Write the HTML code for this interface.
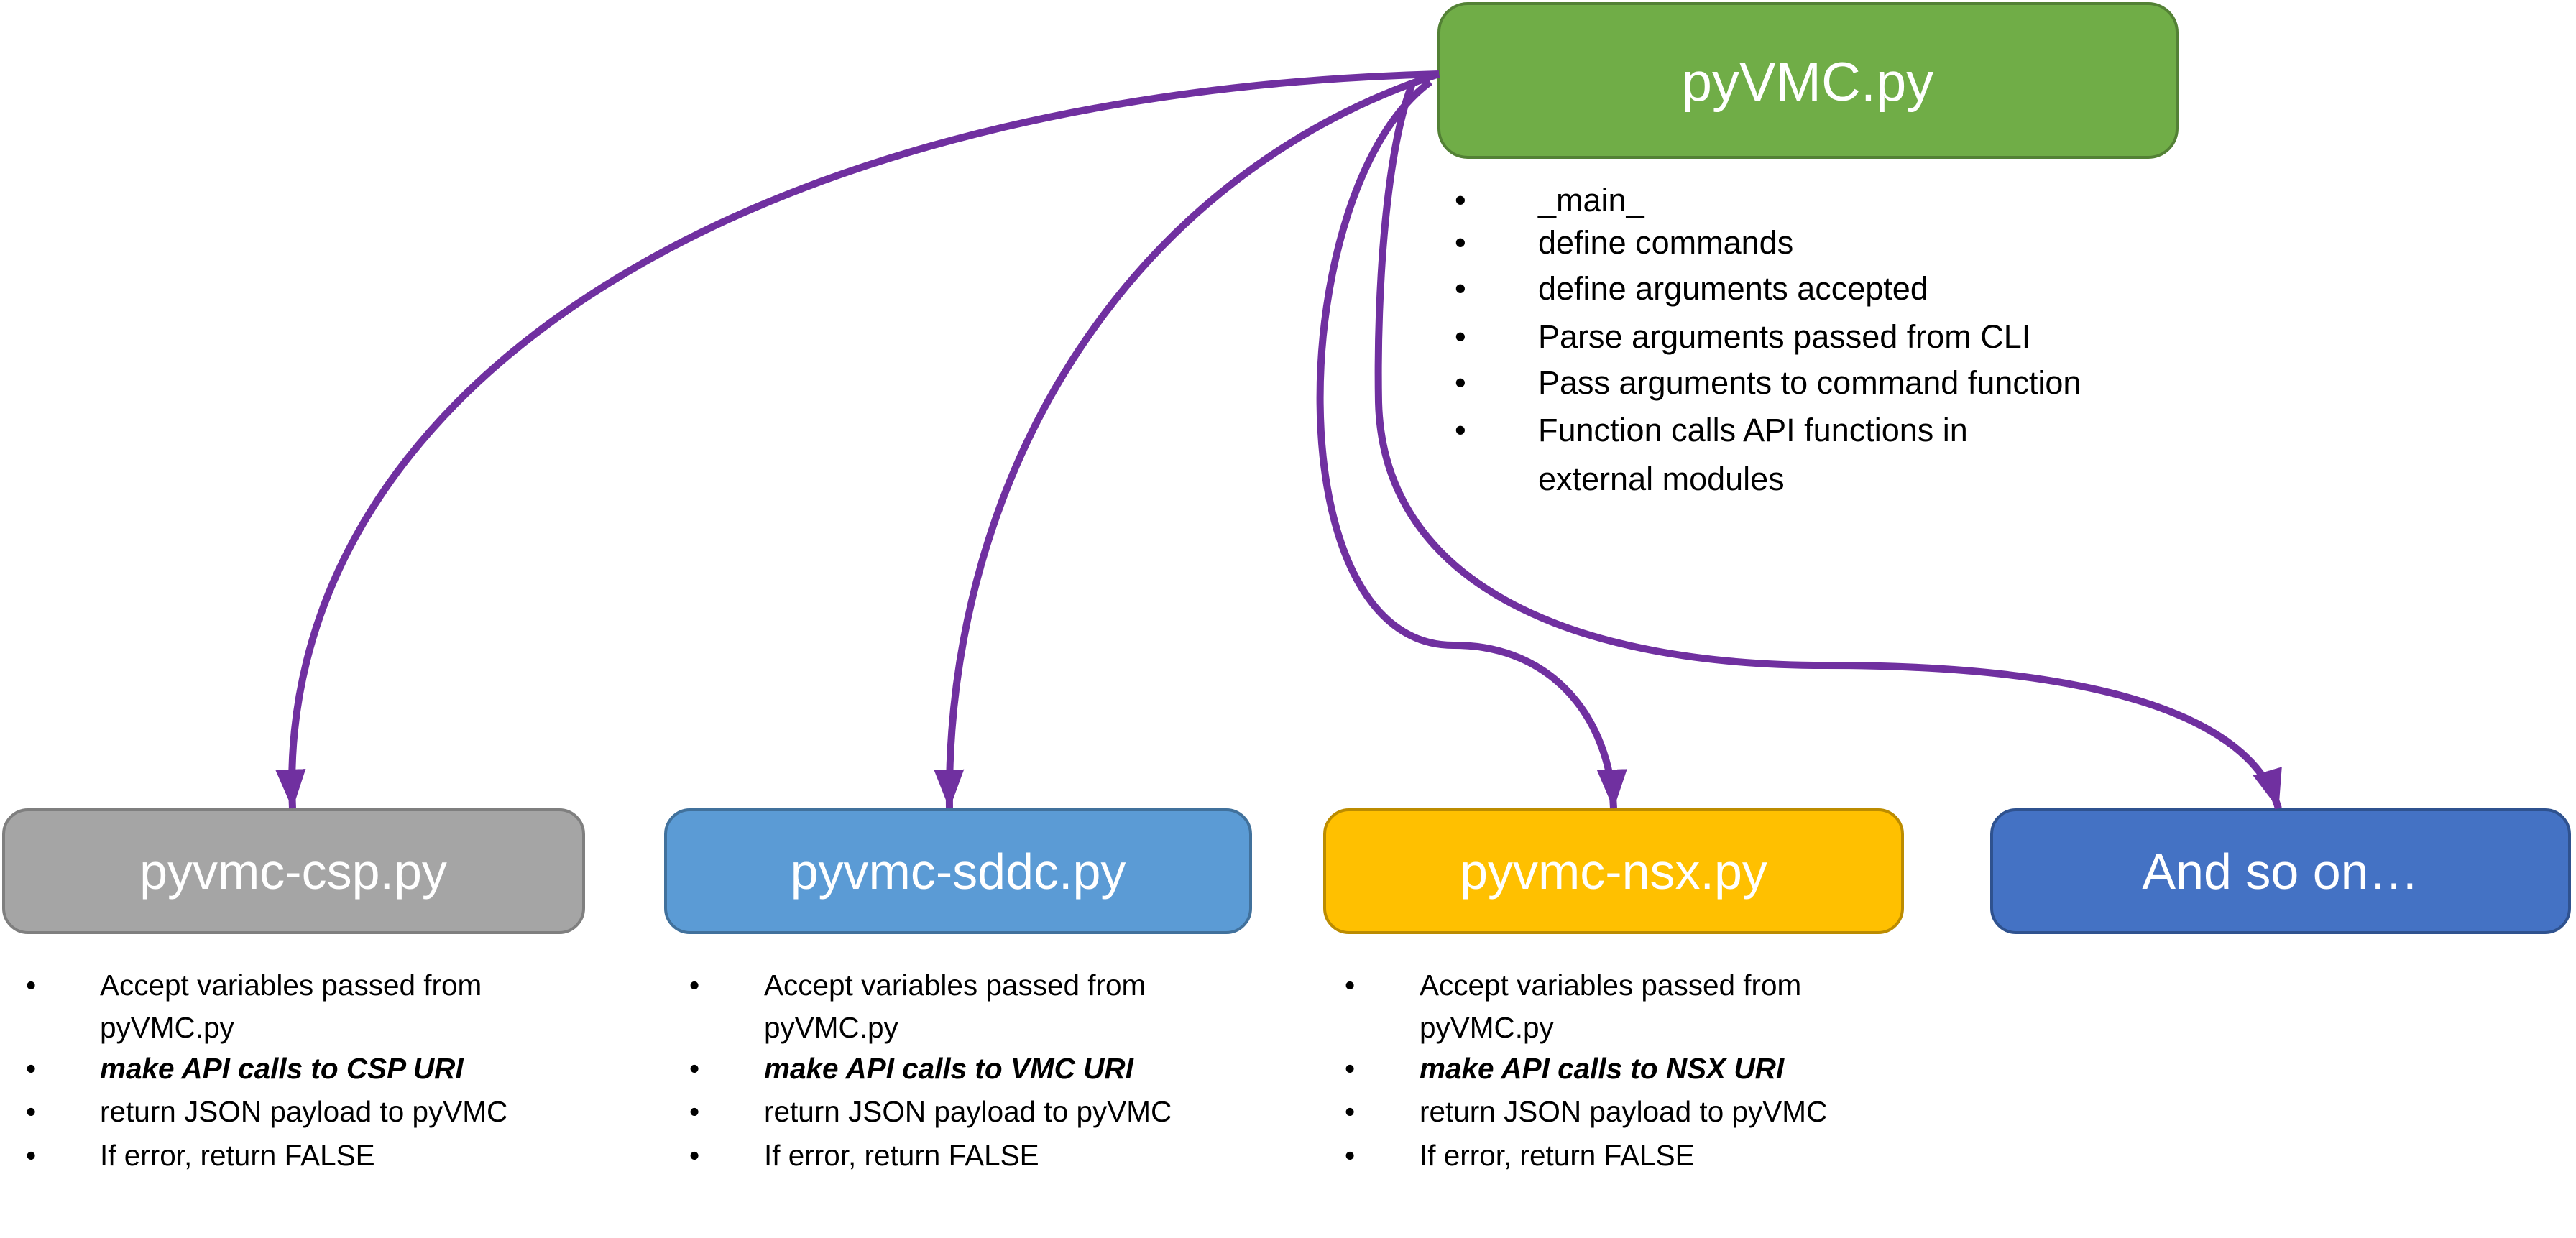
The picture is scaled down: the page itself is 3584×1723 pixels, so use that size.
<!DOCTYPE html>
<html><head><meta charset="utf-8"><style>
html,body{margin:0;padding:0;background:#fff;}
svg{display:block;}
text{font-family:"Liberation Sans",sans-serif;}
</style></head><body>
<svg width="3584" height="1723" viewBox="0 0 3584 1723" xmlns="http://www.w3.org/2000/svg">
<defs>
<marker id="ah" markerUnits="userSpaceOnUse" markerWidth="60" markerHeight="50" refX="54" refY="21" orient="auto">
<path d="M0,0 L55,21 L0,42 Z" fill="#7030a0"/>
</marker>
</defs>
<rect x="2002" y="5" width="1027" height="214" rx="40" fill="#70ad47" stroke="#538135" stroke-width="4"/>
<text x="2515" y="140" font-size="76" fill="#fff" text-anchor="middle">pyVMC.py</text>

<rect x="5" y="1127" width="807" height="171" rx="34" fill="#a5a5a5" stroke="#7f7f7f" stroke-width="4"/>
<text x="408" y="1237" font-size="70" fill="#fff" text-anchor="middle">pyvmc-csp.py</text>
<rect x="926" y="1127" width="814" height="171" rx="34" fill="#5b9bd5" stroke="#41719c" stroke-width="4"/>
<text x="1333" y="1237" font-size="70" fill="#fff" text-anchor="middle">pyvmc-sddc.py</text>
<rect x="1843" y="1127" width="804" height="171" rx="34" fill="#ffc000" stroke="#bc8c00" stroke-width="4"/>
<text x="2245" y="1237" font-size="70" fill="#fff" text-anchor="middle">pyvmc-nsx.py</text>
<rect x="2771" y="1127" width="804" height="171" rx="34" fill="#4472c4" stroke="#2f528f" stroke-width="4"/>
<text x="3173" y="1237" font-size="70" fill="#fff" text-anchor="middle">And so on…</text>

<g fill="none" stroke="#7030a0" stroke-width="10">
<path d="M2002,103 C1000,130 380,560 407,1125" marker-end="url(#ah)"/>
<path d="M2002,103 C1580,240 1315,650 1321,1125" marker-end="url(#ah)"/>
<path d="M1990,114 C1790,260 1770,900 2023,898 C2160,898 2240,1000 2245,1125" marker-end="url(#ah)"/>
<path d="M1966,114 C1930,200 1915,400 1918,560 C1925,820 2200,926 2540,926 C2900,926 3130,990 3170,1125" marker-end="url(#ah)"/>
</g>

<g font-size="45" fill="#000">
<text x="2024" y="294">•</text><text x="2140" y="294">_main_</text>
<text x="2024" y="353">•</text><text x="2140" y="353">define commands</text>
<text x="2024" y="417">•</text><text x="2140" y="417">define arguments accepted</text>
<text x="2024" y="484">•</text><text x="2140" y="484">Parse arguments passed from CLI</text>
<text x="2024" y="548">•</text><text x="2140" y="548">Pass arguments to command function</text>
<text x="2024" y="614">•</text><text x="2140" y="614">Function calls API functions in</text>
<text x="2140" y="682">external modules</text>
</g>

<g font-size="40.5" fill="#000">
<g>
<text x="36" y="1385">•</text><text x="139" y="1385">Accept variables passed from</text>
<text x="139" y="1444">pyVMC.py</text>
<text x="36" y="1501">•</text><text x="139" y="1501" font-weight="bold" font-style="italic">make API calls to CSP URI</text>
<text x="36" y="1561">•</text><text x="139" y="1561">return JSON payload to pyVMC</text>
<text x="36" y="1622">•</text><text x="139" y="1622">If error, return FALSE</text>
</g>
<g>
<text x="959" y="1385">•</text><text x="1063" y="1385">Accept variables passed from</text>
<text x="1063" y="1444">pyVMC.py</text>
<text x="959" y="1501">•</text><text x="1063" y="1501" font-weight="bold" font-style="italic">make API calls to VMC URI</text>
<text x="959" y="1561">•</text><text x="1063" y="1561">return JSON payload to pyVMC</text>
<text x="959" y="1622">•</text><text x="1063" y="1622">If error, return FALSE</text>
</g>
<g>
<text x="1871" y="1385">•</text><text x="1975" y="1385">Accept variables passed from</text>
<text x="1975" y="1444">pyVMC.py</text>
<text x="1871" y="1501">•</text><text x="1975" y="1501" font-weight="bold" font-style="italic">make API calls to NSX URI</text>
<text x="1871" y="1561">•</text><text x="1975" y="1561">return JSON payload to pyVMC</text>
<text x="1871" y="1622">•</text><text x="1975" y="1622">If error, return FALSE</text>
</g>
</g>
</svg>
</body></html>
